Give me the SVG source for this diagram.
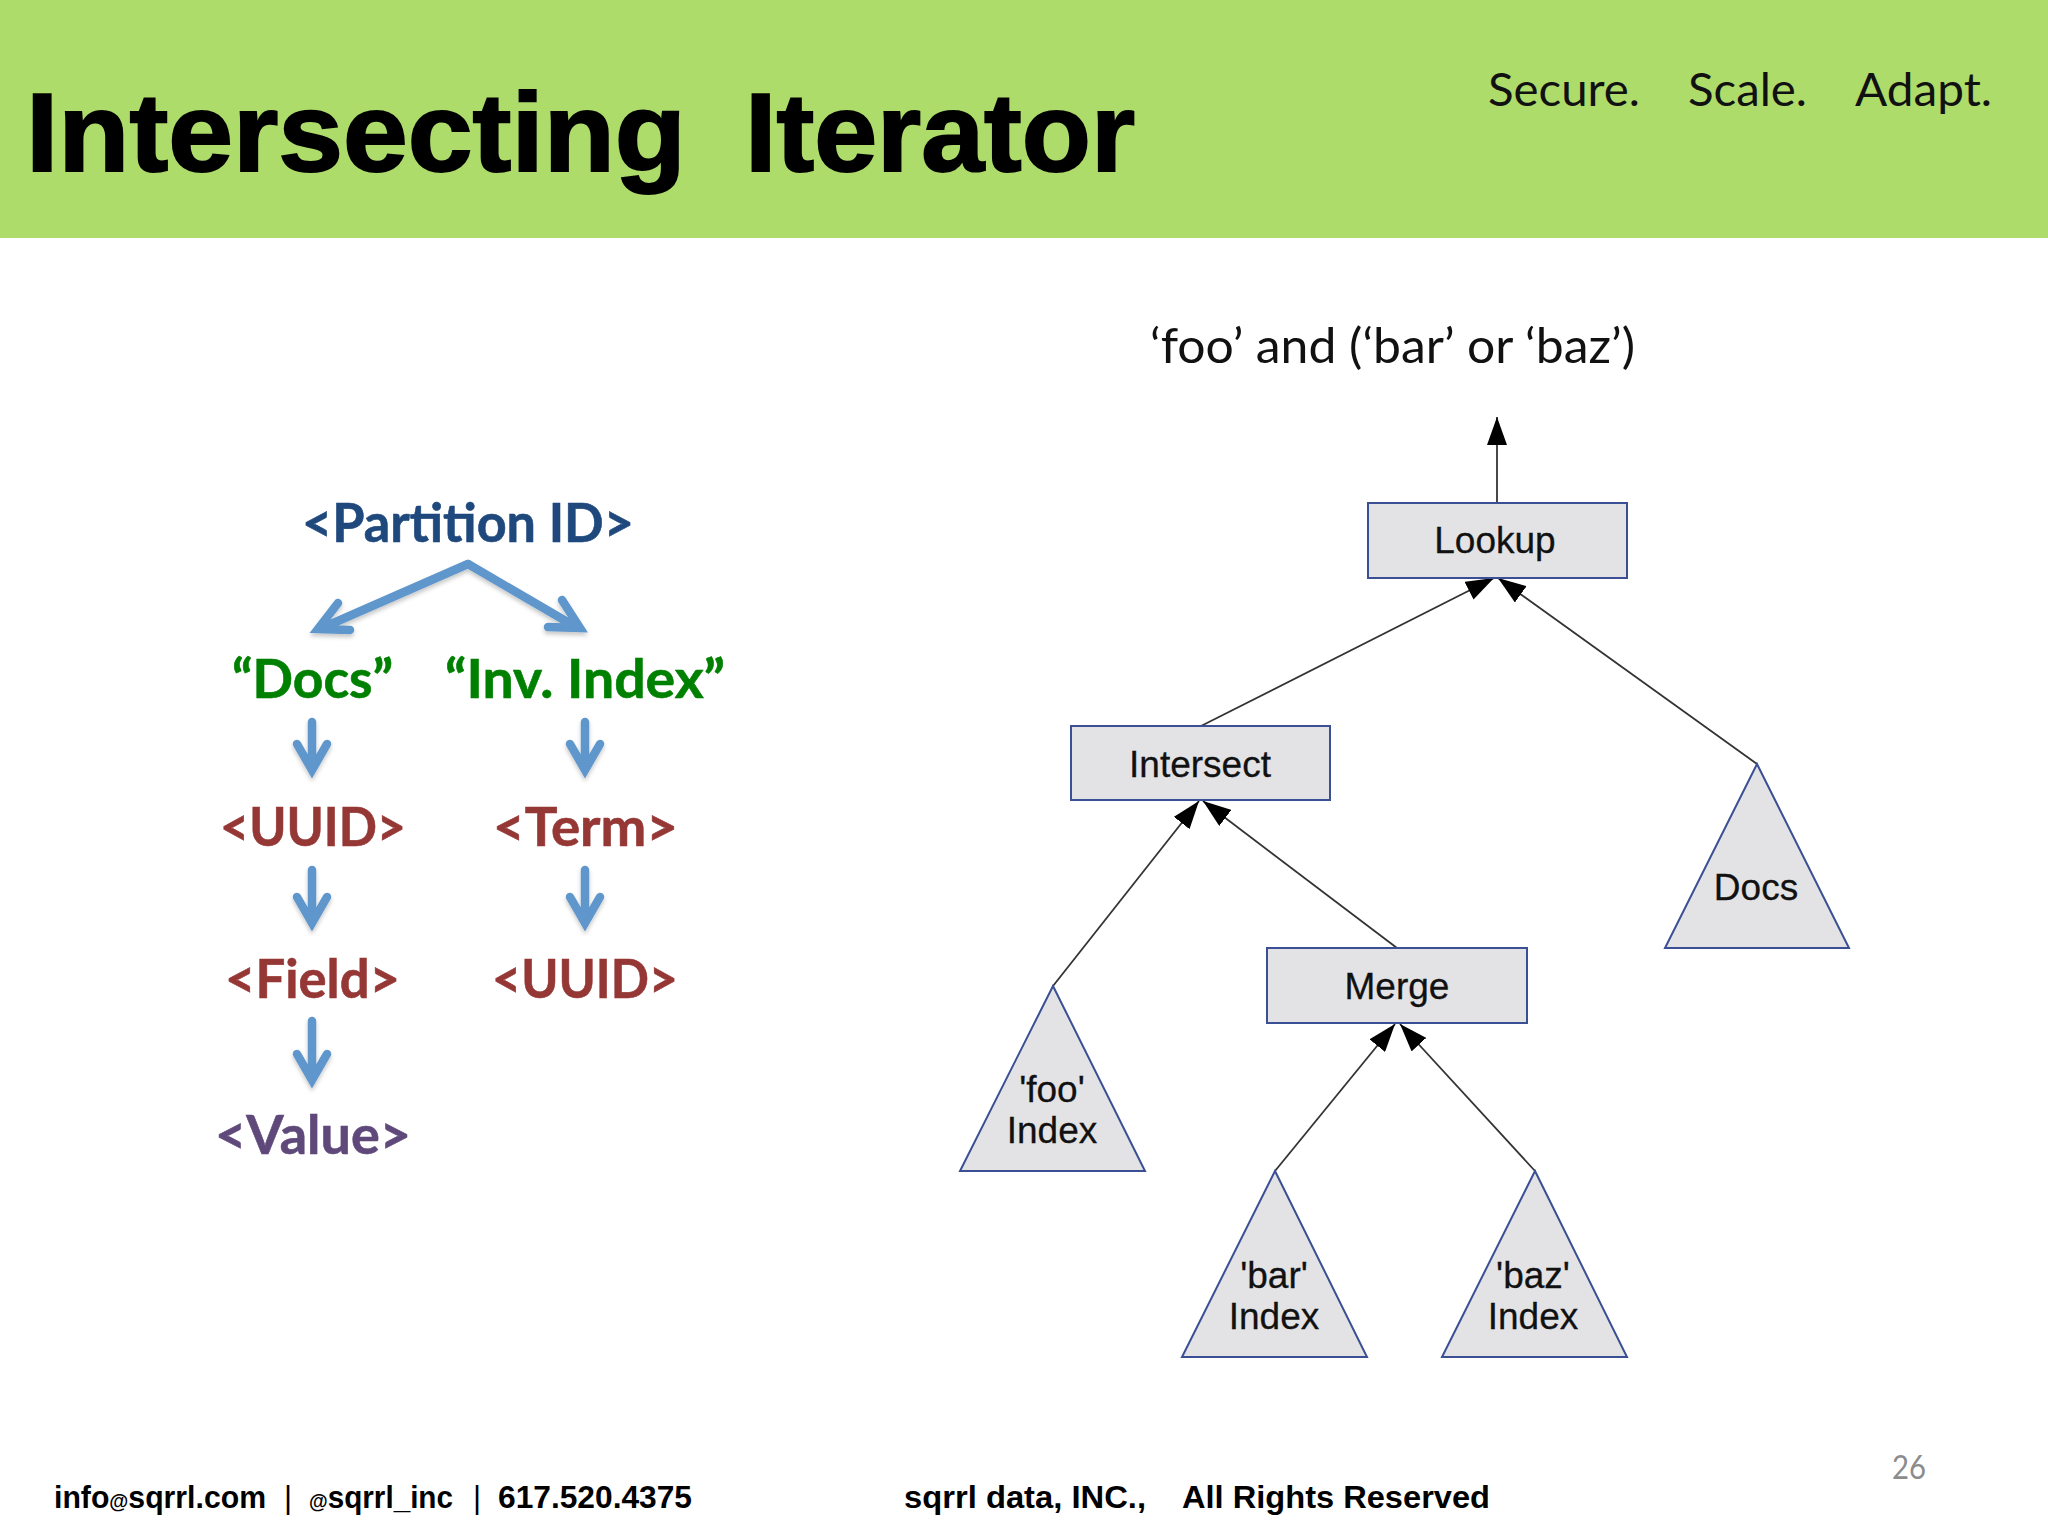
<svg xmlns="http://www.w3.org/2000/svg" width="2048" height="1536" viewBox="0 0 2048 1536">
<style>
.t{font-family:"Liberation Sans",Arial,sans-serif;font-weight:700;fill:#000}
.s{font-family:Lato,"Open Sans",sans-serif;fill:#111}
.b{font-family:Lato,"Open Sans",sans-serif;font-weight:700;font-size:53px;text-anchor:start;stroke-width:.6px}
.n{font-family:"Liberation Sans",Arial,sans-serif;font-size:37px;text-anchor:middle;fill:#111;stroke:#111;stroke-width:.3px}
.f{font-family:"Liberation Sans",Arial,sans-serif;font-weight:700;font-size:31px;fill:#000}
.p{font-family:"Liberation Sans",Arial,sans-serif;font-size:31px;fill:#000}
.shape{fill:#e3e3e5;stroke:#3a4f94;stroke-width:2}
.a{fill:none;stroke:#5f96cb;stroke-width:8.5;stroke-linecap:round;stroke-linejoin:miter}
.c{fill:none;stroke:#333;stroke-width:1.8}
</style>
<defs>
<marker id="h" viewBox="0 0 28 20" refX="28" refY="10" markerWidth="28" markerHeight="20" markerUnits="userSpaceOnUse" orient="auto"><path d="M0 0L28 10L0 20Z" fill="#000"/></marker>
<filter id="sh" x="-20%" y="-20%" width="140%" height="140%"><feDropShadow dx="0" dy="3" stdDeviation="2" flood-color="#000" flood-opacity=".22"/></filter>
</defs>
<rect width="2048" height="1536" fill="#fff"/>
<rect id="banner" width="2048" height="238" fill="#aedc6a"/>
<text class="t" x="26" y="171" font-size="112" textLength="660" lengthAdjust="spacingAndGlyphs" stroke="#000" stroke-width="2">Intersecting</text>
<text class="t" x="745" y="171" font-size="112" textLength="390" lengthAdjust="spacingAndGlyphs" stroke="#000" stroke-width="2">Iterator</text>
<text class="s" x="1488" y="106" font-size="46" textLength="152" lengthAdjust="spacingAndGlyphs">Secure.</text>
<text class="s" x="1688" y="106" font-size="46" textLength="119" lengthAdjust="spacingAndGlyphs">Scale.</text>
<text class="s" x="1855" y="106" font-size="46" textLength="137" lengthAdjust="spacingAndGlyphs">Adapt.</text>
<text id="query" class="s" x="1150" y="363" font-size="48" textLength="485" lengthAdjust="spacingAndGlyphs">‘foo’ and (‘bar’ or ‘baz’)</text>
<g id="schema-labels">
<text id="partition" class="b" x="302" y="542" fill="#1f497d" stroke="#1f497d" textLength="332" lengthAdjust="spacingAndGlyphs">&lt;Partition ID&gt;</text>
<text id="docs-key" class="b" x="232" y="698" fill="#008000" stroke="#008000" textLength="161" lengthAdjust="spacingAndGlyphs">“Docs”</text>
<text id="inv-key" class="b" x="445" y="698" fill="#008000" stroke="#008000" textLength="280" lengthAdjust="spacingAndGlyphs">“Inv. Index”</text>
<text id="uuid1" class="b" x="220" y="846" fill="#953735" stroke="#953735" textLength="186" lengthAdjust="spacingAndGlyphs">&lt;UUID&gt;</text>
<text id="term" class="b" x="493" y="846" fill="#953735" stroke="#953735" textLength="185" lengthAdjust="spacingAndGlyphs">&lt;Term&gt;</text>
<text id="field" class="b" x="225" y="998" fill="#953735" stroke="#953735" textLength="175" lengthAdjust="spacingAndGlyphs">&lt;Field&gt;</text>
<text id="uuid2" class="b" x="492" y="998" fill="#953735" stroke="#953735" textLength="186" lengthAdjust="spacingAndGlyphs">&lt;UUID&gt;</text>
<text id="value" class="b" x="215" y="1154" fill="#5f497a" stroke="#5f497a" textLength="196" lengthAdjust="spacingAndGlyphs">&lt;Value&gt;</text>
</g>
<g id="schema-arrows" class="a" filter="url(#sh)">
<path d="M468 564L322 628M338 603L318 629L350 630"/>
<path d="M468 564L576 627M562 600L580 628L548 627"/>
<path d="M312 722V770M297 744L312 770L327 744"/>
<path d="M585 722V770M570 744L585 770L600 744"/>
<path d="M312 870V923M297 897L312 923L327 897"/>
<path d="M585 870V923M570 897L585 923L600 897"/>
<path d="M312 1021V1080M297 1054L312 1080L327 1054"/>
</g>
<g id="connectors" class="c">
<line x1="1497" y1="503" x2="1497" y2="417" marker-end="url(#h)"/>
<line x1="1201" y1="726" x2="1494" y2="578" marker-end="url(#h)"/>
<line x1="1757" y1="764" x2="1498" y2="578" marker-end="url(#h)"/>
<line x1="1053" y1="986" x2="1199" y2="801" marker-end="url(#h)"/>
<line x1="1397" y1="948" x2="1203" y2="801" marker-end="url(#h)"/>
<line x1="1275" y1="1171" x2="1395" y2="1024" marker-end="url(#h)"/>
<line x1="1535" y1="1171" x2="1400" y2="1024" marker-end="url(#h)"/>
</g>
<g id="lookup"><rect class="shape" x="1368" y="503" width="259" height="75"/><text class="n" x="1495" y="553">Lookup</text></g>
<g id="intersect"><rect class="shape" x="1071" y="726" width="259" height="74"/><text class="n" x="1200" y="777">Intersect</text></g>
<g id="merge"><rect class="shape" x="1267" y="948" width="260" height="75"/><text class="n" x="1397" y="999">Merge</text></g>
<g id="docs"><path class="shape" d="M1757 764L1849 948H1665Z"/><text class="n" x="1756" y="900">Docs</text></g>
<g id="foo"><path class="shape" d="M1053 986L1145 1171H960Z"/><text class="n" x="1052" y="1102">'foo'</text><text class="n" x="1052" y="1143">Index</text></g>
<g id="bar"><path class="shape" d="M1275 1171L1367 1357H1182Z"/><text class="n" x="1274" y="1288">'bar'</text><text class="n" x="1274" y="1329">Index</text></g>
<g id="baz"><path class="shape" d="M1535 1171L1627 1357H1442Z"/><text class="n" x="1533" y="1288">'baz'</text><text class="n" x="1533" y="1329">Index</text></g>
<g id="footer">
<text class="f" x="54" y="1508" textLength="212" lengthAdjust="spacingAndGlyphs">info<tspan font-size="20">@</tspan>sqrrl.com</text>
<text class="p" x="284" y="1508">|</text>
<text class="f" x="309" y="1508" textLength="144" lengthAdjust="spacingAndGlyphs"><tspan font-size="20">@</tspan>sqrrl_inc</text>
<text class="p" x="473" y="1508">|</text>
<text class="f" x="498" y="1508" textLength="194" lengthAdjust="spacingAndGlyphs">617.520.4375</text>
<text class="f" x="904" y="1508" textLength="242" lengthAdjust="spacingAndGlyphs">sqrrl data, INC.,</text>
<text class="f" x="1182" y="1508" textLength="308" lengthAdjust="spacingAndGlyphs">All Rights Reserved</text>
<text x="1892" y="1479" font-family="Lato,sans-serif" font-size="32" fill="#8c8c8c" textLength="34" lengthAdjust="spacingAndGlyphs">26</text>
</g>
</svg>
